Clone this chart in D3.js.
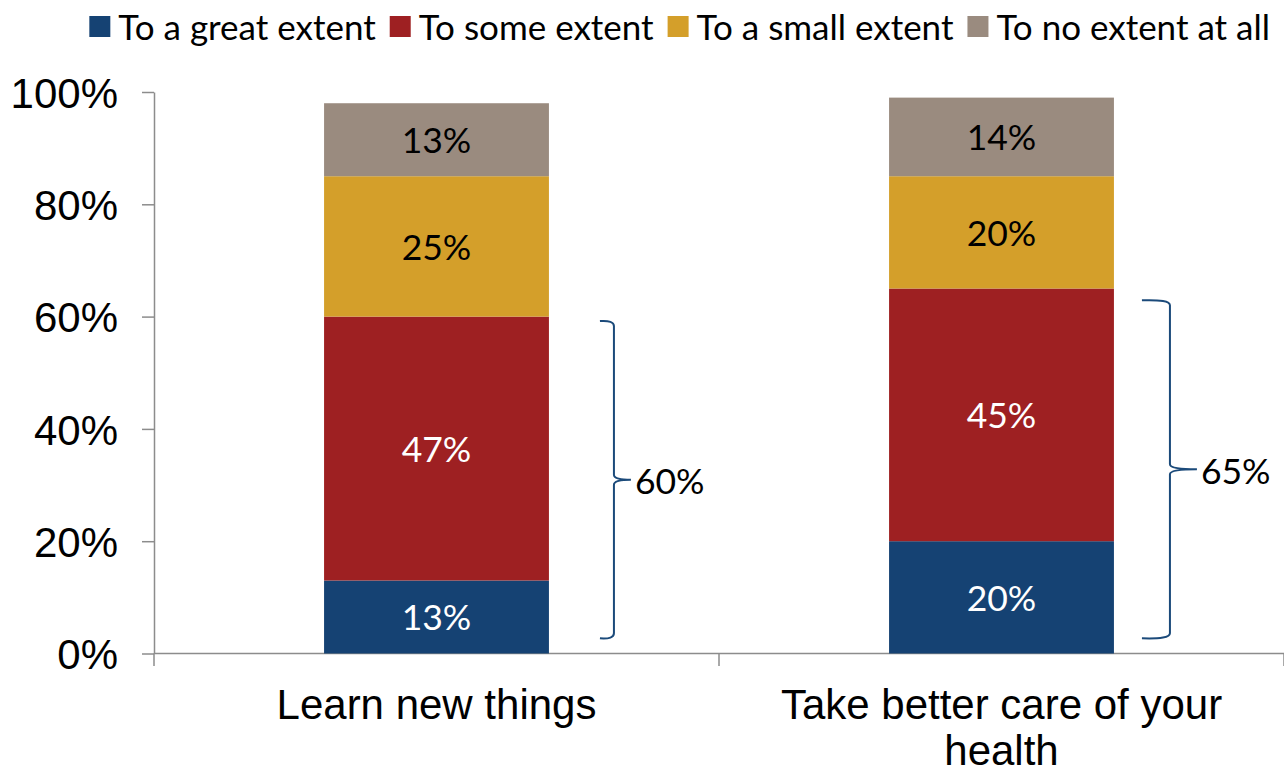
<!DOCTYPE html>
<html>
<head>
<meta charset="utf-8">
<script src="https://cdn.jsdelivr.net/npm/d3@7"></script>
<style>
  body { margin: 0; background: #fff; }
  svg { display: block; }
</style>
</head>
<body>
<div id="chart"></div>
<script>
// DATA

const categories = ['Learn new things', 'Take better care of your health'];
const categoryLines = [['Learn new things'], ['Take better care of your', 'health']];
const seriesNames = ['To a great extent', 'To some extent', 'To a small extent', 'To no extent at all'];
const greatExtent = [13, 20];
const someExtent = [47, 45];
const smallExtent = [25, 20];
const noExtent = [13, 14];
const yTicks = [0, 20, 40, 60, 80, 100];
// bracket spans (in %) as drawn beside each bar
const bracketLow = [2.7, 2.7];
const bracketHigh = [59.2, 62.9];

// LAYOUT

const width = 1284;
const height = 769;
const margin = {top: 92, right: 0, bottom: 115.5, left: 154};
const colors = ['#154273', '#9e2022', '#d49f2a', '#9a8b7f'];
const labelColors = ['#fff', '#fff', '#000', '#000'];
const bracketGap = [65, 56];
const bracketHook = [14, 28];
const bracketTip = [17, 27];
const labelFont = 'Lato, Calibri, sans-serif';
const axisFont = '"Liberation Sans", Arial, sans-serif';

const series = [greatExtent, someExtent, smallExtent, noExtent];

const svg = d3.select('#chart')
    .append('svg')
        .attr('width', width)
        .attr('height', height);

const x = d3.scaleBand()
    .domain(categories)
    .range([margin.left, width - margin.right])
    .padding(0);
const barWidth = x.bandwidth() * 0.398;

const y = d3.scaleLinear()
    .domain([0, 100])
    .range([height - margin.bottom, margin.top]);

// stacked rows
const rows = categories.map((c, i) => {
    const r = {category: c};
    seriesNames.forEach((s, j) => r[s] = series[j][i]);
    return r;
});
const stacked = d3.stack().keys(seriesNames)(rows);

// axes
const yAxis = g => g
    .attr('transform', `translate(${margin.left},0)`)
    .call(d3.axisLeft(y).tickValues(yTicks).tickFormat(d => d + '%').tickSize(12).tickSizeOuter(0))
    .call(g => g.selectAll('line, .domain').attr('stroke', '#8c8c8c').attr('stroke-width', 1.5))
    .call(g => g.selectAll('text')
        .attr('font-family', axisFont)
        .attr('font-size', 42)
        .attr('fill', '#000')
        .attr('x', -36)
        .attr('dy', '0.36em'));

svg.append('g').call(yAxis);

const xx = g => g
    .attr('transform', `translate(0,${y(0)})`)
    .call(g => g.append('line')
        .attr('x1', margin.left).attr('x2', width - margin.right)
        .attr('stroke', '#8c8c8c').attr('stroke-width', 1.5))
    .call(g => g.selectAll('.tick')
        .data([margin.left, ...categories.map(c => x(c) + x.bandwidth())])
        .join('line')
            .attr('class', 'tick')
            .attr('x1', d => d).attr('x2', d => d)
            .attr('y1', 0).attr('y2', 12.5)
            .attr('stroke', '#8c8c8c').attr('stroke-width', 1.5));

svg.append('g').call(xx);

// category labels
svg.append('g')
    .selectAll('text')
    .data(categories)
    .join('text')
        .attr('font-family', axisFont)
        .attr('font-size', 42)
        .attr('text-anchor', 'middle')
        .attr('transform', d => `translate(${x(d) + x.bandwidth() / 2},${y(0) + 65})`)
        .selectAll('tspan')
        .data((d, i) => categoryLines[i])
        .join('tspan')
            .attr('x', 0)
            .attr('dy', (d, i) => i === 0 ? 0 : 46)
            .text(d => d);

// bars
const layer = svg.append('g')
    .selectAll('g')
    .data(stacked)
    .join('g')
        .attr('fill', (d, i) => colors[i]);

layer.selectAll('rect')
    .data(d => d)
    .join('rect')
        .attr('x', d => x(d.data.category) + (x.bandwidth() - barWidth) / 2)
        .attr('y', d => y(d[1]))
        .attr('width', barWidth)
        .attr('height', d => y(d[0]) - y(d[1]));

// bar labels
svg.append('g')
    .selectAll('g')
    .data(stacked)
    .join('g')
        .attr('fill', (d, i) => labelColors[i])
    .selectAll('text')
    .data(d => d)
    .join('text')
        .attr('font-family', labelFont)
        .attr('font-size', 35.5)
        .attr('text-anchor', 'middle')
        .attr('x', d => x(d.data.category) + x.bandwidth() / 2)
        .attr('y', d => (y(d[0]) + y(d[1])) / 2)
        .attr('dy', '0.38em')
        .text(d => (d[1] - d[0]) + '%');

// brackets for great + some extent
const brackets = categories.map((c, i) => ({
    category: c,
    total: greatExtent[i] + someExtent[i],
    lo: bracketLow[i],
    hi: bracketHigh[i],
    i: i
}));

function bracketPath(b) {
    const xv = x(b.category) + (x.bandwidth() + barWidth) / 2 + bracketGap[b.i];
    const xl = xv - bracketHook[b.i];
    const xt = xv + bracketTip[b.i];
    const top = y(b.hi);
    const bot = y(b.lo);
    const mid = (top + bot) / 2;
    const r = 5;
    return `M${xl},${top} Q${xv},${top - 1} ${xv},${top + r}` +
        ` L${xv},${mid - r} Q${xv},${mid} ${xt},${mid}` +
        ` Q${xv},${mid} ${xv},${mid + r}` +
        ` L${xv},${bot - r} Q${xv},${bot + 1} ${xl},${bot}`;
}

const br = svg.append('g')
    .selectAll('g')
    .data(brackets)
    .join('g');

br.append('path')
    .attr('d', bracketPath)
    .attr('fill', 'none')
    .attr('stroke', '#1b4a7a')
    .attr('stroke-width', 2);

br.append('text')
    .attr('font-family', labelFont)
    .attr('font-size', 35.5)
    .attr('x', d => x(d.category) + (x.bandwidth() + barWidth) / 2 + bracketGap[d.i] + bracketTip[d.i] + 4)
    .attr('y', d => (y(d.hi) + y(d.lo)) / 2)
    .attr('dy', '0.4em')
    .text(d => d.total + '%');

// legend
const legend = svg.append('g');
const items = legend.selectAll('g')
    .data(seriesNames)
    .join('g');
items.append('rect')
    .attr('width', 21)
    .attr('height', 21)
    .attr('y', 16)
    .attr('fill', (d, i) => colors[i]);
items.append('text')
    .attr('font-family', labelFont)
    .attr('font-size', 35)
    .attr('x', 29)
    .attr('y', 26.5)
    .attr('dy', '0.38em')
    .text(d => d);

let lx = 0;
const offsets = [];
items.each(function(d, i) {
    offsets.push(lx);
    const w = d3.select(this).select('text').node().getComputedTextLength();
    lx += 29 + w + 14;
});
const totalW = lx - 14;
const startX = 1270 - totalW;
items.attr('transform', (d, i) => `translate(${startX + offsets[i]},0)`);
</script>
</body>
</html>
